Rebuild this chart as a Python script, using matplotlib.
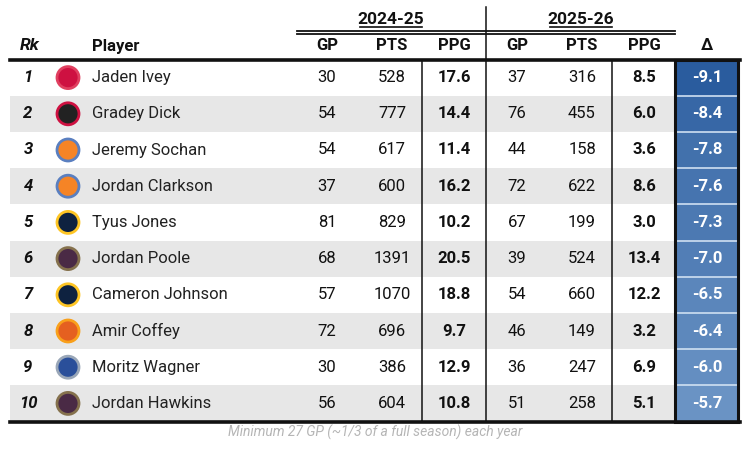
import matplotlib
matplotlib.use("Agg")
import matplotlib.pyplot as plt
from matplotlib.patches import Rectangle, Circle
import matplotlib.colors as mcolors

# ---- data ----
ranks = [1, 2, 3, 4, 5, 6, 7, 8, 9, 10]
players = ["Jaden Ivey", "Gradey Dick", "Jeremy Sochan", "Jordan Clarkson", "Tyus Jones",
           "Jordan Poole", "Cameron Johnson", "Amir Coffey", "Moritz Wagner", "Jordan Hawkins"]
teams = ["CHI", "TOR", "NYK", "NYK", "DEN", "NOP", "DEN", "PHX", "ORL", "NOP"]
gp_2425 = [30, 54, 54, 37, 81, 68, 57, 72, 30, 56]
pts_2425 = [528, 777, 617, 600, 829, 1391, 1070, 696, 386, 604]
ppg_2425 = [17.6, 14.4, 11.4, 16.2, 10.2, 20.5, 18.8, 9.7, 12.9, 10.8]
gp_2526 = [37, 76, 44, 72, 67, 39, 54, 46, 36, 51]
pts_2526 = [316, 455, 158, 622, 199, 524, 660, 149, 247, 258]
ppg_2526 = [8.5, 6.0, 3.6, 8.6, 3.0, 13.4, 12.2, 3.2, 6.9, 5.1]
delta = [-9.1, -8.4, -7.8, -7.6, -7.3, -7.0, -6.5, -6.4, -6.0, -5.7]
season_labels = ["2024-25", "2025-26"]
col_labels = ["GP", "PTS", "PPG"]
footnote = "Minimum 27 GP (~1/3 of a full season) each year"

# ---- style ----
FONT = "Roboto"
plt.rcParams['font.family'] = [FONT, 'DejaVu Sans']
team_style = {
    "CHI": ("#ce1141", "#e04060"),
    "TOR": ("#222222", "#ce1141"),
    "NYK": ("#f58426", "#5a7fc0"),
    "DEN": ("#0e2240", "#fec524"),
    "NOP": ("#4a2a45", "#85714d"),
    "PHX": ("#e56020", "#f9a01b"),
    "ORL": ("#2a4f9a", "#9aa7b8"),
}

W, H = 750, 450
fig = plt.figure(figsize=(7.5, 4.5), dpi=100)
ax = fig.add_axes([0, 0, 1, 1])
ax.set_xlim(0, W)
ax.set_ylim(H, 0)
ax.axis("off")

top, bottom = 59.5, 421.5
n = len(players)
rh = (bottom - top) / n
x_left, x_right = 10, 740
x_rk, x_logo, x_name = 28, 68, 92
x_cols = [327, 392, 454, 517, 582, 644]
x_delta = 707
box_l, box_r = 675, 738

# alternating row shading
for i in range(n):
    y0 = top + i * rh
    if i % 2 == 1:
        ax.add_patch(Rectangle((x_left, y0), box_l - x_left, rh, color="#e7e7e7", lw=0, zorder=0))

# delta cells colored
cmap = mcolors.LinearSegmentedColormap.from_list("b", ["#6a93c4", "#2a5c9e"])
dmin, dmax = min(delta), max(delta)
for i, d in enumerate(delta):
    y0 = top + i * rh
    t = (dmax - d) / (dmax - dmin)
    ax.add_patch(Rectangle((box_l, y0), box_r - box_l, rh, facecolor=cmap(t), lw=0, zorder=1))
    if i > 0:
        ax.plot([box_l, box_r], [y0, y0], color="#cfe0f2", lw=1.2, zorder=2)
    ax.text(x_delta, y0 + rh / 2, f"{d:.1f}", ha="center", va="center", color="white",
            fontsize=12, fontweight="bold", zorder=3)
ax.add_patch(Rectangle((box_l, top), box_r - box_l, bottom - top, fill=False,
                       edgecolor="#111111", lw=2.2, zorder=4))

# body values
for i in range(n):
    yc = top + i * rh + rh / 2
    ax.text(x_rk, yc, str(ranks[i]), ha="center", va="center", fontsize=12,
            fontweight="bold", fontstyle="italic", color="#111111")
    ax.text(x_name, yc, players[i], ha="left", va="center", fontsize=12, color="#222222")
    fc, ec = team_style[teams[i]]
    ax.add_patch(Circle((x_logo, yc), 11, facecolor=fc, edgecolor=ec, lw=2, zorder=2))
    vals = [gp_2425[i], pts_2425[i], ppg_2425[i], gp_2526[i], pts_2526[i], ppg_2526[i]]
    for j, v in enumerate(vals):
        bold = j in (2, 5)
        s = f"{v:.1f}" if bold else str(v)
        ax.text(x_cols[j], yc, s, ha="center", va="center", fontsize=12,
                fontweight="bold" if bold else "normal", color="#111111")

# vertical lines in body
for xv in (422, 486, 612):
    ax.plot([xv, xv], [top, bottom], color="#111111", lw=1.1, zorder=3)
ax.plot([486, 486], [7, top], color="#111111", lw=1.1, zorder=3)

# header
hy = 46
ax.text(x_rk + 2, hy, "Rk", ha="center", va="center", fontsize=12.5, fontweight="bold",
        fontstyle="italic", color="#111111")
ax.text(x_name, hy, "Player", ha="left", va="center", fontsize=12, fontweight="bold", color="#111111")
for j in range(6):
    ax.text(x_cols[j], hy, col_labels[j % 3], ha="center", va="center", fontsize=12,
            fontweight="bold", color="#111111")
ax.text(x_delta, hy, "Δ", ha="center", va="center", fontsize=12, fontweight="bold", color="#111111")

# season group headers
for k, lab in enumerate(season_labels):
    xc = (x_cols[3 * k] + x_cols[3 * k + 2]) / 2
    ax.text(xc, 19, lab, ha="center", va="center", fontsize=12.5, fontweight="bold", color="#111111")
    ax.plot([xc - 31, xc + 31], [27, 27], color="#111111", lw=1.2)
ax.plot([297, 675], [30.7, 30.7], color="#111111", lw=1.3)
ax.plot([297, 675], [33.6, 33.6], color="#111111", lw=1.3)

# thick rules
ax.plot([x_left, x_right], [top, top], color="#111111", lw=2.6, zorder=5)
ax.plot([x_left, x_right], [bottom, bottom], color="#111111", lw=2.6, zorder=5)

ax.text(375, 432, footnote, ha="center", va="center", fontsize=10, fontstyle="italic", color="#b5b5b5")

fig.savefig("out.png", dpi=100, facecolor="white")
